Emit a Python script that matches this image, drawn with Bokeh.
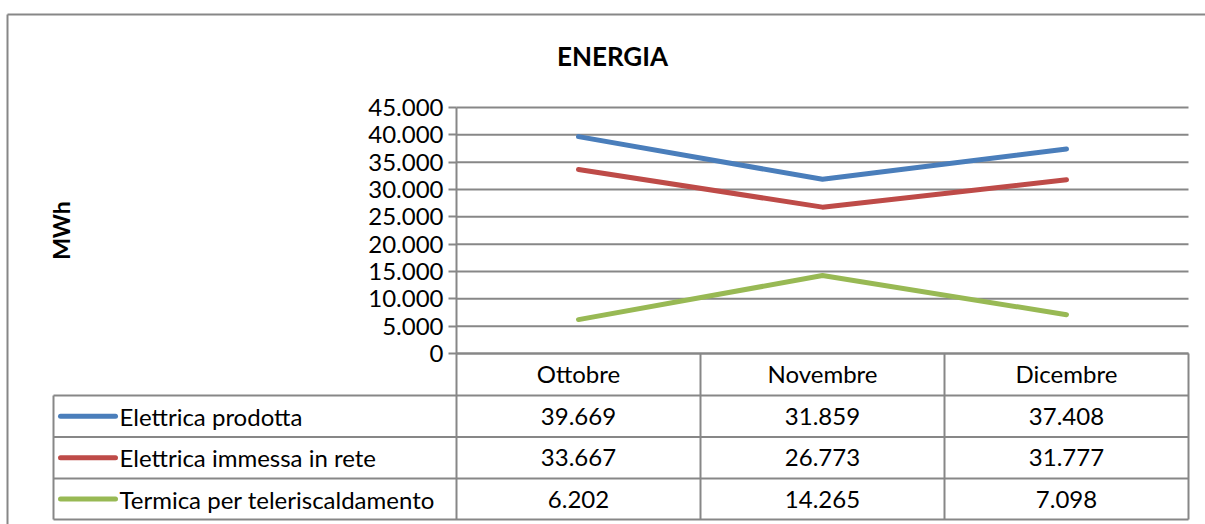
from bokeh.plotting import figure
from bokeh.models import Range1d, FixedTicker, Label
from bokeh.embed import file_html
from bokeh.resources import INLINE
from bokeh.core.properties import value

# ---------------- data ----------------
months = ["Ottobre", "Novembre", "Dicembre"]
series_names = ["Elettrica prodotta", "Elettrica immessa in rete", "Termica per teleriscaldamento"]
elettrica_prodotta = [39669, 31859, 37408]
elettrica_immessa = [33667, 26773, 31777]
termica_teleriscaldamento = [6202, 14265, 7098]
y_ticks = [0, 5000, 10000, 15000, 20000, 25000, 30000, 35000, 40000, 45000]
y_tick_labels = ["0", "5.000", "10.000", "15.000", "20.000", "25.000", "30.000", "35.000", "40.000", "45.000"]

series_values = [elettrica_prodotta, elettrica_immessa, termica_teleriscaldamento]
colors = ["#4A7EBB", "#BE4B48", "#98B954"]
GRAY = "#878787"
FONT = "Lato"
FS = "24px"
LINE_W = 5


def fmt(v):
    return f"{v:,}".replace(",", ".")


# ---------------- layout (canvas pixels) ----------------
W, H = 1205, 524
CAT_X0 = 456.0        # canvas x where the first category begins
PX_PER_CAT = 244.0
Y0_PX = 353.0         # canvas y of value 0
Y_MAX = 45000
PX_PER_UNIT = 246.0 / Y_MAX
ROW_LINES_PX = [395, 436.5, 478, 519]
TABLE_LEFT_PX = 53
BORDER_TOP_PX = 14
BORDER_LEFT_PX = 7


def px_x(px):
    return (px - CAT_X0) / PX_PER_CAT


def px_y(py):
    return (Y0_PX - py) / PX_PER_UNIT


n_cat = len(months)
x_centers = [i + 0.5 for i in range(n_cat)]

p = figure(width=W, height=H, output_backend="svg", toolbar_location=None,
           x_range=Range1d(px_x(0), px_x(W)), y_range=Range1d(px_y(H), px_y(0)),
           min_border_left=0, min_border_right=0, min_border_top=0, min_border_bottom=0,
           outline_line_color=None)
p.grid.visible = False

# outer chart border
p.segment(x0=[px_x(BORDER_LEFT_PX)], y0=[px_y(BORDER_TOP_PX)], x1=[px_x(W)], y1=[px_y(BORDER_TOP_PX)],
          line_color=GRAY, line_width=2)
p.segment(x0=[px_x(BORDER_LEFT_PX)], y0=[px_y(BORDER_TOP_PX)], x1=[px_x(BORDER_LEFT_PX)], y1=[px_y(H)],
          line_color=GRAY, line_width=2)

# title
p.add_layout(Label(x=px_x(612), y=px_y(55), text="ENERGIA", text_align="center",
                   text_baseline="middle", text_font=FONT, text_font_size="26px",
                   text_font_style="bold", text_color="black"))

# horizontal gridlines
p.segment(x0=[0] * len(y_ticks), y0=y_ticks, x1=[n_cat] * len(y_ticks), y1=y_ticks,
          line_color=GRAY, line_width=2)

# y axis
yax = p.yaxis[0]
yax.fixed_location = 0
yax.bounds = (0, Y_MAX)
yax.ticker = FixedTicker(ticks=y_ticks, minor_ticks=[])
yax.major_label_overrides = {t: l for t, l in zip(y_ticks, y_tick_labels)}
yax.major_label_text_font = FONT
yax.major_label_text_font_size = FS
yax.major_label_text_color = "black"
yax.major_tick_in = 0
yax.major_tick_out = 8
yax.major_tick_line_color = GRAY
yax.major_tick_line_width = 2
yax.minor_tick_line_color = None
yax.axis_line_color = GRAY
yax.axis_line_width = 2
yax.major_label_standoff = 5
yax.axis_label = "MWh"
yax.axis_label_text_font = FONT
yax.axis_label_text_font_size = "23px"
yax.axis_label_text_font_style = "bold"
yax.axis_label_text_color = "black"
yax.axis_label_standoff = 290

# x axis (month header row of the data table)
xax = p.xaxis[0]
xax.fixed_location = 0
xax.bounds = (0, n_cat)
xax.ticker = FixedTicker(ticks=x_centers, minor_ticks=[])
xax.major_label_overrides = {c: m for c, m in zip(x_centers, months)}
xax.major_label_text_font = FONT
xax.major_label_text_font_size = FS
xax.major_label_text_color = "black"
xax.major_label_standoff = 5
xax.major_tick_in = 0
xax.major_tick_out = 0
xax.major_tick_line_color = None
xax.minor_tick_line_color = None
xax.axis_line_color = GRAY
xax.axis_line_width = 2

# series lines
for vals, col in zip(series_values, colors):
    p.line(x_centers, vals, line_color=col, line_width=LINE_W, line_cap="round", line_join="round")

# ---------------- data table ----------------
row_y = [px_y(v) for v in ROW_LINES_PX]
x_left = px_x(TABLE_LEFT_PX)
n_rows = len(series_names)

p.segment(x0=[x_left] * len(row_y), y0=row_y, x1=[n_cat] * len(row_y), y1=row_y,
          line_color=GRAY, line_width=2)
vx = list(range(n_cat + 1))
p.segment(x0=vx, y0=[0] * len(vx), x1=vx, y1=[row_y[-1]] * len(vx),
          line_color=GRAY, line_width=2)
p.segment(x0=[x_left], y0=[row_y[0]], x1=[x_left], y1=[row_y[-1]], line_color=GRAY, line_width=2)

row_c = [(row_y[i] + row_y[i + 1]) / 2 for i in range(n_rows)]

# legend keys
p.segment(x0=[px_x(60)] * n_rows, y0=row_c, x1=[px_x(115)] * n_rows, y1=row_c,
          line_color=colors, line_width=LINE_W, line_cap="round")
p.text(x=[px_x(119)] * n_rows, y=row_c, text=series_names,
       text_font=value(FONT), text_font_size=FS, text_color="black",
       text_align="left", text_baseline="middle")

# values
tx, ty, tt = [], [], []
for i, vals in enumerate(series_values):
    for j, v in enumerate(vals):
        tx.append(x_centers[j])
        ty.append(row_c[i])
        tt.append(fmt(v))
p.text(x=tx, y=ty, text=tt, text_font=value(FONT), text_font_size=FS,
       text_color="black", text_align="center", text_baseline="middle")

open("out.html", "w").write(file_html(p, INLINE))
